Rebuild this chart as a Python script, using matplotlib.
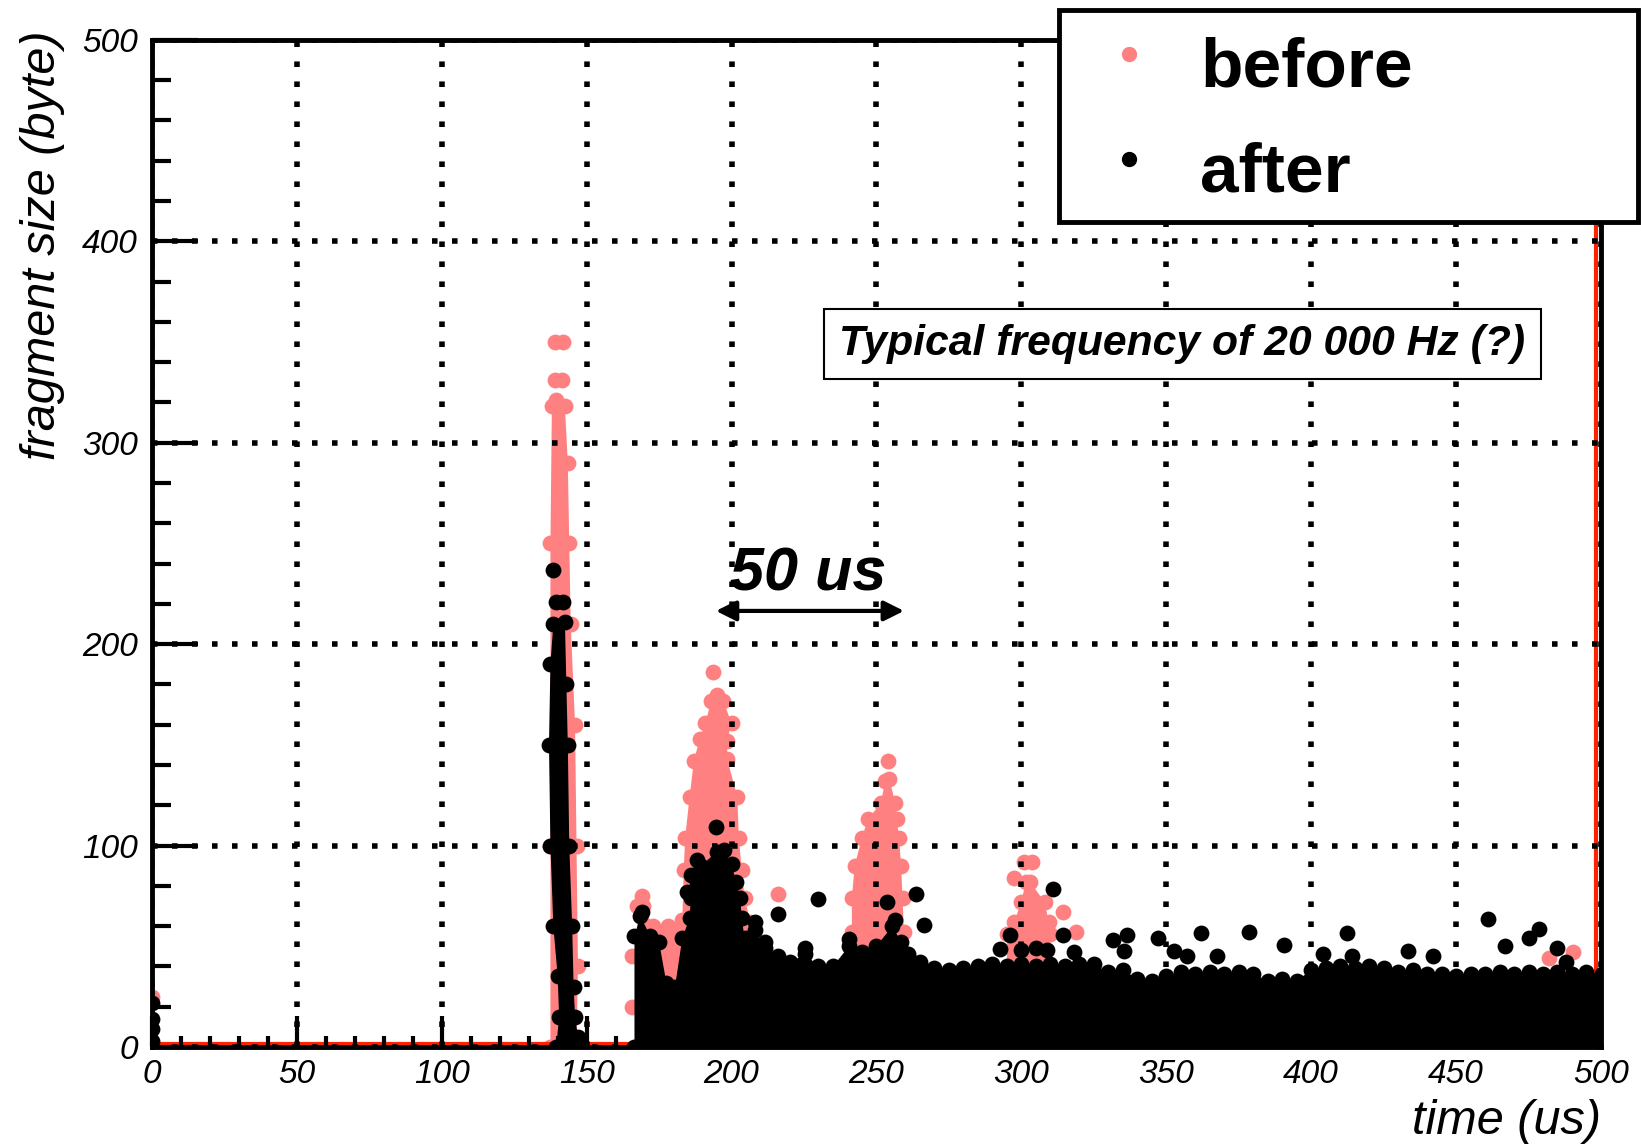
import matplotlib
matplotlib.use("Agg")
import matplotlib.pyplot as plt
from matplotlib.lines import Line2D
from matplotlib.ticker import MultipleLocator

PINK = "#ff8080"
RED = "#ff2200"

# "before" hits: dense clusters given by their outline, plus isolated hits
before_spike_x = [137.5, 137.5, 137.5, 138, 139.5, 142.5, 143.5, 144, 144.5, 146, 146.5, 147, 146.5]
before_spike_y = [0, 100, 250, 318, 321, 318, 290, 250, 210, 160, 100, 40, 0]
before_blob_x = [167.5, 167.5, 169, 169.5, 173, 178, 183, 183.5, 184, 185.5, 187, 189, 191, 193,
                 195, 197, 200, 198.5, 198.5, 202, 202.5, 203.5, 204.5, 206.5, 209, 210]
before_blob_y = [0, 70, 75, 70, 60, 60, 63, 88, 104, 124, 142, 153, 161, 172,
                 175, 172, 161, 152, 143, 124, 104, 88, 74, 62, 52, 0]
before_peak2_x = [241.5, 241.5, 241.5, 242.5, 245, 247, 251.5, 253, 254.5, 256.5, 257, 257.8,
                  258.5, 259, 259.5, 261, 261]
before_peak2_y = [0, 57, 74, 90, 104, 113, 121, 132, 133, 121, 113, 104, 90, 74, 57, 46, 0]
before_peak3_x = [295, 295, 297.5, 300, 301.5, 303, 308, 309.5, 310, 312]
before_peak3_y = [0, 56, 62, 72, 82, 82, 72, 62, 56, 0]
before_hits_x = [0, 139, 142, 139, 141.5, 193.5, 254, 297.5, 301, 303.5, 314.5, 319, 216, 490.5,
                 482, 165.5, 165.5]
before_hits_y = [25, 350, 350, 331, 331, 186, 142, 84, 92, 92, 67, 57, 76, 47,
                 44, 20, 45]

# "after" hits
after_spike_x = [139.5, 140.5, 140, 138.5, 137.5, 137, 137.5, 138.5, 142.5, 143, 143.5, 144,
                 145, 145.5, 146, 147, 147.5]
after_spike_y = [0, 15, 35, 60, 100, 150, 190, 210, 211, 180, 150, 100, 60, 30, 15, 5, 0]
after_band_x = [166.5, 166.5, 168.5, 172, 175, 177.5, 180.5, 183, 185.5, 186, 188, 189.5, 195,
                197.5, 200, 201.5, 203, 203.5, 204.5, 208, 211.5, 216, 220, 225.5, 230, 235,
                240.5, 245, 250, 255.5, 258.5, 261, 265, 270, 275, 280, 285, 290, 295, 300,
                305, 310, 315, 320, 325, 330, 335, 340, 345, 350, 355, 360, 365, 370, 375,
                380, 385, 390, 395, 400, 405, 410, 415, 420, 425, 430, 435, 440, 445, 450,
                455, 460, 465, 470, 475, 480, 485, 490, 495, 500.5, 500.5]
after_band_y = [0, 55, 65, 55, 52, 32, 30, 54, 64, 74, 82, 90, 97,
                98, 91, 82, 74, 64, 54, 58, 49, 45, 42, 46, 40, 40,
                50, 47, 50, 60, 52, 46, 42, 39, 38, 39, 40, 41, 40, 41,
                40, 41, 40, 41, 41, 37, 38, 34, 33, 35, 37, 36, 37, 36, 37,
                36, 33, 34, 33, 38, 39, 40, 39, 40, 39, 37, 38, 36, 36, 35,
                36, 36, 37, 36, 37, 36, 37, 36, 37, 36, 0]
after_hits_x = [0, 0, 0, 0, 138.5, 139.5, 142, 194.5, 208, 216, 211.5, 225.5, 230, 240.5, 253.5,
                256.5, 263.5, 266.5, 188, 186, 184.5, 169, 292.5, 296, 300, 305, 309, 311, 314.5,
                318, 331.5, 336.5, 335.5, 347, 352.5, 357, 362, 367.5, 378.5, 390.5, 404, 412.5,
                414, 433.5, 442, 461, 467, 475, 478.5, 485, 488]
after_hits_y = [3, 9, 14, 22, 237, 221, 221, 109, 62, 66, 52, 49, 73.5, 53.5, 72,
                63, 76, 60.5, 93, 85.5, 77, 67, 48.5, 55.5, 48, 49, 48, 78.5, 55.5,
                47, 53, 55.5, 47.5, 54, 47.5, 45, 56.5, 45, 57, 50.5, 46, 56.5,
                45, 47.5, 45, 63.5, 50, 54, 58.5, 49, 42]

# red graph line along the bottom and up the right edge
line_x = [0, 498.3, 498.3]
line_y = [1.7, 1.7, 500]

plt.rcParams['font.family'] = ['Liberation Sans', 'DejaVu Sans']

fig = plt.figure(figsize=(16.41, 11.47), dpi=100)
ax = fig.add_axes([0.0926, 0.0872, 0.8830, 0.8780])

dot = 130
ax.plot(line_x, line_y, color=RED, lw=3, zorder=1.2, clip_on=False)

for xs, ys in [(before_spike_x, before_spike_y), (before_blob_x, before_blob_y),
               (before_peak2_x, before_peak2_y), (before_peak3_x, before_peak3_y)]:
    ax.fill(xs, ys, color=PINK, lw=0, zorder=1)
    ax.scatter(xs, ys, s=dot, color=PINK, lw=0, zorder=1)
ax.scatter(before_hits_x, before_hits_y, s=dot, color=PINK, lw=0, zorder=1)

for xs, ys in [(after_spike_x, after_spike_y), (after_band_x, after_band_y)]:
    ax.fill(xs, ys, color="black", lw=0, zorder=2)
    ax.scatter(xs, ys, s=dot, color="black", lw=0, zorder=2)
ax.scatter(after_hits_x, after_hits_y, s=dot, color="black", lw=0, zorder=2)

ax.set_xlim(0, 500)
ax.set_ylim(0, 500)
ax.xaxis.set_major_locator(MultipleLocator(50))
ax.xaxis.set_minor_locator(MultipleLocator(10))
ax.yaxis.set_major_locator(MultipleLocator(100))
ax.yaxis.set_minor_locator(MultipleLocator(20))
ax.tick_params(axis='both', which='both', direction='in', width=3, color='black',
               labelsize=24, zorder=3)
ax.tick_params(axis='y', which='major', length=33, pad=10)
ax.tick_params(axis='y', which='minor', length=14)
ax.tick_params(axis='x', which='major', length=22, pad=9)
ax.tick_params(axis='x', which='minor', length=8)
for lab in ax.get_xticklabels() + ax.get_yticklabels():
    lab.set_style('italic')

ax.grid(True, which='major', color='black', lw=4, linestyle=(0, (1, 2.6)),
        dash_capstyle='butt', zorder=1.5)
ax.set_axisbelow(False)
for line in ax.get_xgridlines() + ax.get_ygridlines():
    line.set_zorder(1.5)
for sp in ax.spines.values():
    sp.set_linewidth(3.5)
    sp.set_zorder(3)

ax.set_ylabel("fragment size (byte)", fontsize=35, style='italic', loc='top')
ax.yaxis.set_label_coords(-0.060, 1.009)
ax.set_xlabel("time (us)", fontsize=35, style='italic', loc='right')
ax.xaxis.set_label_coords(1.0, -0.052)

ax.text(355.5, 349, "Typical frequency of 20 000 Hz (?)", fontsize=30.7, fontweight='bold',
        style='italic', ha='center', va='center', zorder=4,
        bbox=dict(boxstyle='square,pad=0.36', fc='white', ec='black', lw=1.5))

ax.text(226.4, 226.4, "50 us", fontsize=44, fontweight='bold', style='italic',
        ha='center', va='baseline', zorder=4)
ax.annotate("", xy=(194.6, 216.5), xytext=(259.5, 216.5),
            arrowprops=dict(arrowstyle='<|-|>', color='black', lw=3, mutation_scale=30,
                            shrinkA=0, shrinkB=0), zorder=4)

handles = [Line2D([], [], marker='o', ls='', color=PINK, markersize=10),
           Line2D([], [], marker='o', ls='', color='black', markersize=10)]
leg = ax.legend(handles, ["before", "after"], loc='upper left',
                bbox_to_anchor=(0.6453, 0.9913, 0.3528, 0), bbox_transform=fig.transFigure,
                mode='expand', borderaxespad=0, borderpad=0.16, handlelength=1.7,
                handleheight=1.5, handletextpad=0.17, labelspacing=0.30, fancybox=False,
                framealpha=1, edgecolor='black', prop=dict(size=50, weight='bold'))
leg.get_frame().set_linewidth(3.5)
leg.set_zorder(10)

fig.savefig("out.png", dpi=100)
